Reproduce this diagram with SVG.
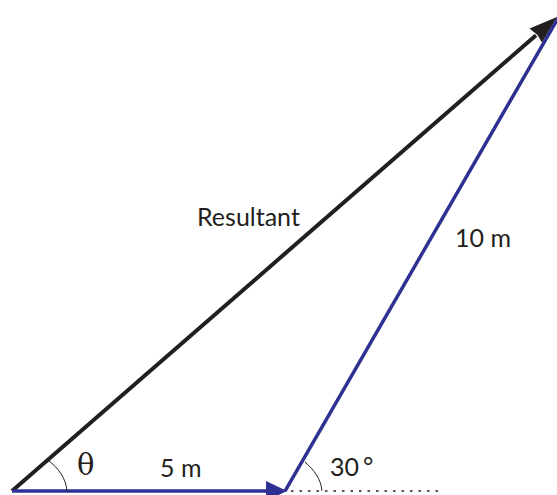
<svg xmlns="http://www.w3.org/2000/svg" width="557" height="495" viewBox="0 0 557 495">
<style>
.lbl{font-family:Lato,"Open Sans",sans-serif;font-size:25px;fill:#231f20}
.ang{fill:none;stroke:#231f20;stroke-width:1}
</style>
<rect width="557" height="495" fill="#fff"/>
<g id="connectors">
<line id="resultant" x1="12" y1="491" x2="536" y2="35.3" stroke="#231f20" stroke-width="4"/>
<path d="M557,17 L529.5,28.4 L537.5,35 L542,42.6 Z" fill="#231f20"/>
<line id="v5m" x1="12" y1="491" x2="270" y2="491" stroke="#2e3192" stroke-width="3.5"/>
<path d="M287,491 L266,481 L266,501 Z" fill="#2e3192"/>
<line id="v10m" x1="285" y1="491" x2="563" y2="9.5" stroke="#2e3192" stroke-width="3.5"/>
<line id="ref" x1="291" y1="491" x2="443" y2="491" stroke="#555" stroke-width="2" stroke-dasharray="2.5 6"/>
<path class="ang" d="M49,461 C58,468 66,478 67,491"/>
<path class="ang" d="M305,462 C314,470 321,479 322,491"/>
</g>
<g id="label-resultant"><text class="lbl" x="197" y="226">Resultant</text></g>
<g id="label-10m"><text class="lbl" x="455" y="247">10 m</text></g>
<g id="label-5m"><text class="lbl" x="160" y="477">5 m</text></g>
<g id="label-theta"><text x="77" y="475" font-family="'DejaVu Serif',serif" font-size="29" fill="#231f20">θ</text></g>
<g id="label-30"><text class="lbl" x="330" y="476">30<tspan dx="4" dy="-1">°</tspan></text></g>
</svg>
